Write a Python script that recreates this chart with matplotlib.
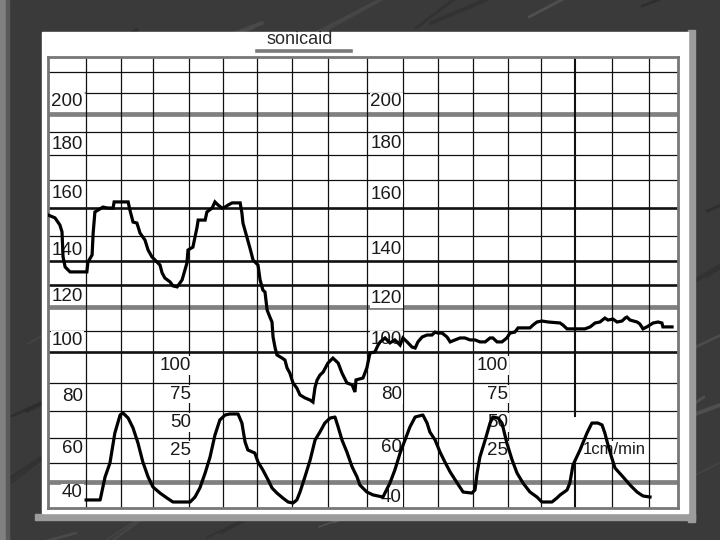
import matplotlib
matplotlib.use("Agg")
import matplotlib.pyplot as plt
from matplotlib.patches import Rectangle

# ---------------- data ----------------
# Fetal heart rate trace: time in minutes (1 grid cell = 1 min), bpm
fhr_time = [0.00, 0.20, 0.34, 0.40, 0.43, 0.49, 0.63, 1.11, 1.14, 1.26, 1.29, 1.34, 1.57, 1.71, 1.86, 1.89,
            2.29, 2.34, 2.43, 2.54, 2.63, 2.77, 2.86, 2.97, 3.06, 3.20, 3.26, 3.34, 3.49, 3.57, 3.69, 3.83,
            3.97, 4.00, 4.14, 4.26, 4.29, 4.49, 4.54, 4.69, 4.77, 4.86, 4.97, 5.06, 5.14, 5.26, 5.49, 5.54,
            5.57, 5.69, 5.77, 5.86, 6.00, 6.06, 6.14, 6.20, 6.26, 6.34, 6.40, 6.43, 6.49, 6.54, 6.69, 6.77,
            6.83, 6.91, 7.00, 7.11, 7.20, 7.34, 7.49, 7.57, 7.63, 7.69, 7.77, 7.86, 8.00, 8.14, 8.29, 8.40,
            8.54, 8.69, 8.77, 8.80, 9.00, 9.11, 9.14, 9.20, 9.34, 9.43, 9.49, 9.63, 9.77, 9.91, 10.06, 10.14,
            10.26, 10.40, 10.49, 10.57, 10.69, 10.83, 10.97, 11.06, 11.14, 11.26, 11.40, 11.49, 11.63, 11.77,
            11.91, 12.06, 12.20, 12.34, 12.49, 12.63, 12.71, 12.83, 12.97, 13.11, 13.20, 13.34, 13.43, 13.57,
            13.77, 13.86, 13.97, 14.11, 14.29, 14.63, 14.71, 14.83, 15.00, 15.34, 15.49, 15.63, 15.77, 15.91,
            16.00, 16.14, 16.26, 16.40, 16.49, 16.54, 16.63, 16.83, 16.91, 17.00, 17.11, 17.20, 17.29, 17.43,
            17.54, 17.57, 17.83]
fhr_bpm = [153.2, 152.0, 149.1, 146.3, 136.1, 132.0, 130.0, 130.0, 134.0, 136.9, 145.8, 154.4, 156.4, 156.0,
           156.0, 158.5, 158.5, 155.2, 150.3, 149.9, 145.8, 143.0, 138.9, 136.1, 134.8, 132.8, 129.6, 127.5,
           125.9, 124.3, 123.9, 126.7, 133.6, 138.9, 140.1, 148.3, 151.1, 151.1, 154.4, 156.0, 158.5, 157.2,
           156.0, 156.4, 157.2, 158.1, 158.1, 154.0, 149.9, 143.8, 139.7, 134.8, 132.8, 126.7, 122.6, 121.8,
           114.5, 111.6, 109.6, 103.5, 99.0, 96.2, 94.9, 94.1, 90.9, 88.8, 84.8, 82.7, 79.9, 78.7, 77.8, 77.0,
           83.1, 86.0, 88.0, 89.2, 92.9, 94.9, 92.9, 88.8, 84.8, 84.0, 81.1, 86.0, 86.8, 90.9, 92.9, 97.0,
           97.4, 100.2, 101.5, 103.1, 101.1, 102.3, 100.2, 103.1, 101.5, 99.4, 99.0, 101.5, 103.5, 104.3,
           104.3, 105.5, 105.1, 105.1, 103.5, 101.5, 102.3, 103.1, 103.1, 102.3, 102.3, 101.5, 101.5, 103.1,
           103.1, 101.5, 101.5, 103.1, 105.1, 105.5, 107.2, 107.2, 107.2, 108.4, 109.6, 110.0, 109.6, 109.2,
           108.4, 106.8, 106.8, 106.8, 107.6, 109.2, 109.6, 111.2, 110.4, 110.8, 109.6, 110.0, 111.2, 111.6,
           110.4, 109.6, 108.8, 106.8, 107.6, 108.4, 109.2, 109.6, 109.2, 107.6, 107.6]

# Uterine activity (contractions) trace: time in minutes, mmHg
ua_time = [1.09, 1.49, 1.63, 1.77, 1.91, 2.06, 2.14, 2.29, 2.43, 2.57, 2.71, 2.86, 3.00, 3.20, 3.40, 3.57,
           4.06, 4.20, 4.34, 4.49, 4.63, 4.77, 4.91, 5.06, 5.20, 5.43, 5.54, 5.63, 5.71, 5.91, 6.00, 6.14,
           6.29, 6.40, 6.54, 6.71, 6.86, 7.00, 7.11, 7.20, 7.34, 7.49, 7.63, 7.77, 7.91, 8.06, 8.20, 8.29,
           8.40, 8.54, 8.69, 8.83, 8.91, 9.11, 9.29, 9.57, 9.77, 9.91, 10.06, 10.20, 10.34, 10.49, 10.71,
           10.83, 10.91, 11.06, 11.20, 11.34, 11.49, 11.69, 11.86, 12.11, 12.20, 12.26, 12.34, 12.49, 12.63,
           12.71, 12.86, 12.97, 13.11, 13.26, 13.40, 13.57, 13.77, 13.97, 14.11, 14.40, 14.54, 14.63, 14.83,
           14.91, 15.00, 15.20, 15.40, 15.54, 15.71, 15.83, 15.91, 16.00, 16.11, 16.20, 16.43, 16.63, 16.83,
           17.00, 17.20]
ua_mmhg = [-18.5, -18.5, 1.8, 14.1, 40.6, 56.5, 58.3, 53.8, 45.0, 31.8, 15.0, 1.8, -7.1, -12.4, -16.8, -20.3,
           -20.3, -15.9, -7.9, 5.3, 19.4, 38.8, 52.1, 56.5, 57.4, 57.4, 49.4, 32.7, 25.6, 22.9, 15.0, 7.9,
           -0.9, -7.9, -12.4, -16.8, -20.3, -21.2, -18.5, -11.5, 1.8, 16.8, 34.4, 41.5, 49.4, 53.8, 54.7, 45.9,
           34.4, 23.8, 10.6, 1.8, -5.3, -11.5, -14.1, -15.9, -3.5, 7.9, 22.9, 34.4, 45.9, 54.7, 56.5,
           49.4, 41.5, 34.4, 23.8, 15.0, 6.2, -3.5, -11.5, -12.4, -9.7, 5.3, 19.4, 34.4, 49.4,
           54.7, 53.8, 49.4, 31.8, 16.8, 5.3, -3.5, -11.5, -15.9, -20.3, -20.3, -16.8, -14.1, -9.7,
           -3.5, 12.4, 25.6, 40.6, 49.4, 49.4, 47.7, 40.6, 30.0, 18.5, 9.7, 1.8, -5.3, -11.5,
           -15.0, -15.9]

fhr_labels = ["200", "180", "160", "140", "120", "100", "80", "60", "40"]
ua_labels = ["100", "75", "50", "25"]
title_text = "sonicaid"
speed_text = "1cm/min"

# ---------------- layout / style ----------------
W, H = 720, 540
FRAME = "#3a3a3a"
fig = plt.figure(figsize=(7.2, 5.4), dpi=100)
fig.patch.set_facecolor(FRAME)

def fr(x0, y0, x1, y1):
    """pixel box (top-left origin) -> figure fraction rect"""
    return [x0 / W, 1 - y1 / H, (x1 - x0) / W, (y1 - y0) / H]

# frame (decoration): streaky dark stone with bevels
bev = fig.add_axes([0, 0, 1, 1])
bev.set_xlim(0, W); bev.set_ylim(H, 0); bev.axis("off")
for k in range(90):
    x0 = (k * 97) % 760 - 20
    y0 = (k * 61) % 560
    shade = ["#4d4d4d", "#2c2c2c", "#555555", "#303030", "#474747"][k % 5]
    bev.plot([x0, x0 + 45 + (k % 7) * 6], [y0, y0 - 22 - (k % 5) * 4],
             color=shade, lw=1.2 + (k % 3) * 0.8, alpha=0.8, zorder=1, solid_capstyle="round")
bev.add_patch(Rectangle((0, 0), 6, H, color="#808080", zorder=2))
bev.add_patch(Rectangle((6, 0), 3, H, color="#5a5a5a", zorder=2))
bev.add_patch(Rectangle((688, 30), 7, 492, color="#9c9c9c", zorder=2))
bev.add_patch(Rectangle((35, 514), 660, 6, color="#9c9c9c", zorder=2))
bev.add_patch(Rectangle((42, 32), 646, 481, color="white", zorder=3))

# title
bev.text(300, 40, title_text, ha="center", va="center", fontsize=13,
         family=["Liberation Sans", "DejaVu Sans"], color="#2a2a2a", zorder=5)
bev.plot([257, 351], [50.5, 50.5], color="#7a7a7a", lw=2.6, zorder=5)

# main chart axes (bpm scale) covering the grid area
ax = fig.add_axes(fr(48, 57, 678, 508))
ax.set_xlim(0, 18)
ax.set_ylim(33.86, 217.51)
ax.set_facecolor("none")
for s in ax.spines.values():
    s.set_visible(True)
    s.set_color("#777777")
    s.set_linestyle((0, (1, 1)))
    s.set_linewidth(2.0)
ax.set_xticks([]); ax.set_yticks([])

THIN = dict(color="#111111", lw=0.9, zorder=2)
THICK = dict(color="#111111", lw=1.9, zorder=2)
GRAY = dict(color="#808080", lw=3.4, zorder=2)

h_thin = [211.4, 177.6, 187.0, 167.4, 144.6, 105.9, 84.8, 73.4, 62.4, 52.2]
h_thick = [156.0, 134.4, 124.7, 97.4]
h_gray = [194.3, 115.7, 44.5]
for v in h_thin:
    ax.axhline(v, **THIN)
for v in h_thick:
    ax.axhline(v, **THICK)
for v in h_gray:
    ax.axhline(v, **GRAY)
# line at ~203: dotted in the first cell, solid after
ax.plot([0, 1.09], [202.9, 202.9], color="#777777", lw=1.2, ls=(0, (1, 1)), zorder=2)
ax.plot([1.09, 18], [202.9, 202.9], **THIN)

v_thin = [1.09, 2.09, 3.0, 4.03, 5.0, 5.97, 6.97, 8.0, 9.11, 10.14, 11.14, 12.14, 13.14, 14.09, 16.11, 17.17]
for t in v_thin:
    ax.axvline(t, **THIN)
ax.plot([15.06, 15.06], [217.51, 71.3], color="#111111", lw=1.5, zorder=2)
ax.plot([15.06, 15.06], [53.4, 33.86], color="#111111", lw=1.5, zorder=2)

# labels
FONT = ["Liberation Sans Narrow", "Liberation Sans", "DejaVu Sans"]
lab_kw = dict(fontsize=13.5, family=FONT, color="#1a1a1a", va="center", zorder=3,
              bbox=dict(facecolor="white", edgecolor="none", pad=0.6))
left_pos = [199.3, 181.7, 162.1, 138.9, 120.1, 102.1, 79.2, 57.9, 40.0]
right_pos = [199.2, 182.1, 161.7, 139.3, 119.0, 102.3, 79.9, 58.3, 38.3]
for lab, y in zip(fhr_labels, left_pos):
    ax.text(1.0, y, lab, ha="right", **lab_kw)
for lab, y in zip(fhr_labels, right_pos):
    ax.text(10.11, y, lab, ha="right", **lab_kw)

ax.text(15.29, 57.5, speed_text, ha="left", va="center", fontsize=12, family=FONT,
        color="#1a1a1a", zorder=3, bbox=dict(facecolor="white", edgecolor="none", pad=0.8))

# FHR trace
ax.plot(fhr_time, fhr_bpm, color="black", lw=2.3, zorder=6, solid_joinstyle="miter")

# uterine activity axis (mmHg)
ax2 = ax.twinx()
ax2.set_ylim(-25.6, 372.5)
ax2.set_xlim(0, 18)
ax2.axis("off")
for lab in ua_labels:
    v = float(lab)
    ax2.text(4.09, v, lab, ha="right", **lab_kw)
    ax2.text(13.14, v, lab, ha="right", **lab_kw)
ax2.plot(ua_time, ua_mmhg, color="black", lw=2.3, zorder=6)

fig.savefig("out.png", dpi=100, facecolor=fig.get_facecolor())
